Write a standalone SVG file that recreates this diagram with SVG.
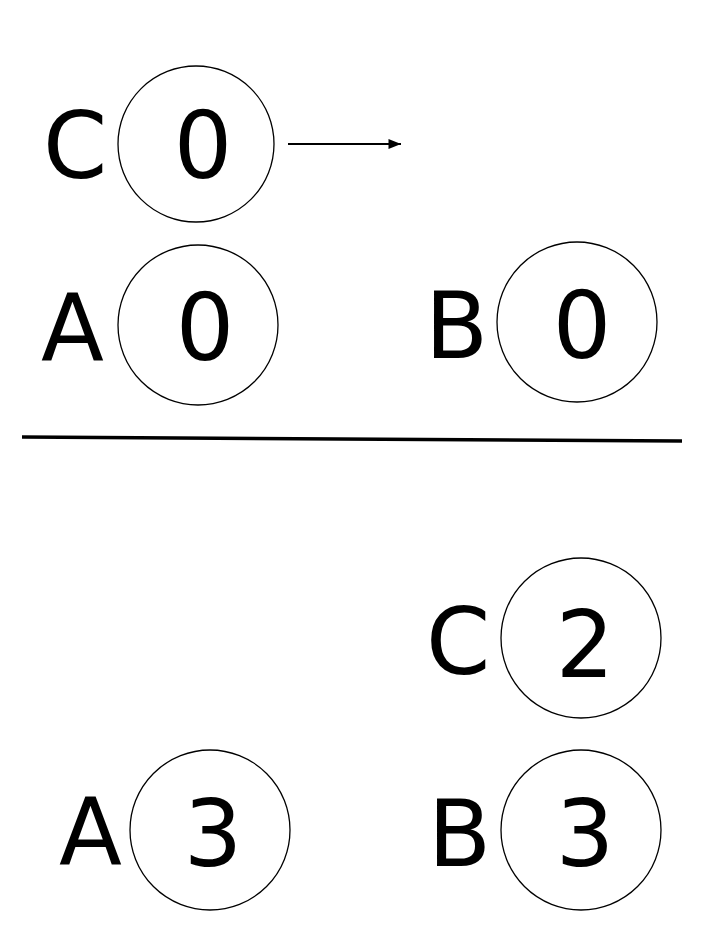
<svg xmlns="http://www.w3.org/2000/svg" width="704" height="932" viewBox="0 0 704 932">
<style>
circle{fill:none;stroke:#000;stroke-width:1.3}
text{font-family:"DejaVu Sans",sans-serif;font-size:92px;fill:#000}
.n{text-anchor:middle}
</style>
<defs><marker id="ah" viewBox="0 0 10 10" refX="10" refY="5" markerWidth="6" markerHeight="6" orient="auto" markerUnits="userSpaceOnUse"><path d="M0,1 L10,5 L0,9 Z" fill="#000"/></marker>
<marker id="ah2" viewBox="0 0 10 8" refX="10" refY="4" markerWidth="13" markerHeight="10" orient="auto" markerUnits="userSpaceOnUse"><path d="M0,0 L10,4 L0,8 Z" fill="#000"/></marker></defs>
<g id="C1"><circle cx="196" cy="144" r="78"/><text x="43" y="178">C</text><text class="n" x="203" y="178">0</text></g>
<g id="A1"><circle cx="198" cy="325" r="80"/><text x="41" y="360">A</text><text class="n" x="205" y="360">0</text></g>
<g id="B1"><circle cx="577" cy="322" r="80"/><text x="425" y="358">B</text><text class="n" x="582" y="358">0</text></g>
<g id="C2"><circle cx="581" cy="638" r="80"/><text x="426" y="674">C</text><text class="n" x="585" y="677">2</text></g>
<g id="A2"><circle cx="210" cy="830" r="80"/><text x="59" y="864">A</text><text class="n" x="213" y="866">3</text></g>
<g id="B2"><circle cx="581" cy="830" r="80"/><text x="428" y="866">B</text><text class="n" x="585" y="866">3</text></g>
<g id="connectors"><line x1="288" y1="144" x2="401" y2="144" stroke="#000" stroke-width="2" marker-end="url(#ah2)"/>
<line x1="22" y1="437" x2="682" y2="441" stroke="#000" stroke-width="3.5"/></g>
</svg>
